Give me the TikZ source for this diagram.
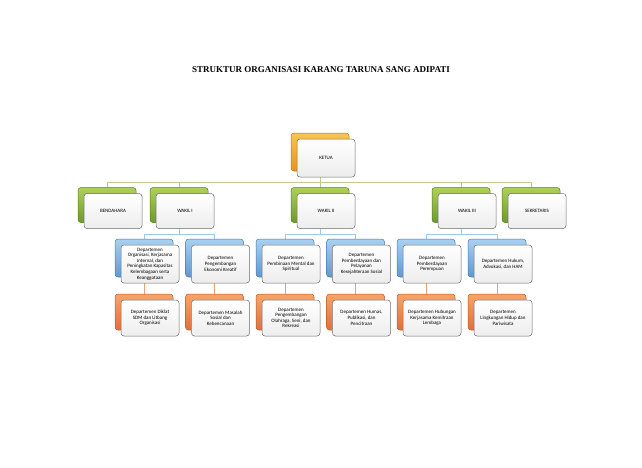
\documentclass[tikz,border=0pt]{standalone}
\usepackage{fontspec}
\setmainfont{Carlito}
\newfontfamily\titlefont{Liberation Serif}
\usetikzlibrary{shadows,backgrounds}
\definecolor{boxline}{HTML}{6E6A68}
\definecolor{boxgray}{HTML}{EDEDED}
\definecolor{ketuaT}{HTML}{F8C455}
\definecolor{ketuaB}{HTML}{E8921E}
\definecolor{grnT}{HTML}{AED05A}
\definecolor{grnB}{HTML}{6E9A2A}
\definecolor{bluT}{HTML}{A9D0F2}
\definecolor{bluB}{HTML}{5E98D2}
\definecolor{orgT}{HTML}{F8A468}
\definecolor{orgB}{HTML}{E0703A}
\definecolor{lineG}{HTML}{B9CE88}
\definecolor{lineB}{HTML}{9CCAEA}
\definecolor{lineO}{HTML}{E8A374}
\begin{document}
\begin{tikzpicture}[x=1pt,y=-1pt,
  box/.style={draw=boxline,line width=0.5pt,rounded corners=3pt,top color=white,bottom color=boxgray,
    minimum width=58pt,minimum height=36pt,inner sep=1pt,align=center,font=\fontsize{5}{5.6}\selectfont},
  shadK/.style={general shadow={shadow xshift=-6pt,shadow yshift=6pt,draw=ketuaB!80!black,top color=ketuaT,bottom color=ketuaB}},
  shadG/.style={general shadow={shadow xshift=-6pt,shadow yshift=6pt,draw=grnB!80!black,top color=grnT,bottom color=grnB}},
  shadB/.style={general shadow={shadow xshift=-6pt,shadow yshift=6pt,draw=bluB!80!black,top color=bluT,bottom color=bluB}},
  shadO/.style={general shadow={shadow xshift=-6pt,shadow yshift=6pt,draw=orgB!80!black,top color=orgT,bottom color=orgB}},
  lnG/.style={draw=lineG,line width=0.7pt},
  lnB/.style={draw=lineB,line width=0.7pt},
  lnO/.style={draw=lineO,line width=0.7pt}]
\useasboundingbox (0,0) rectangle (642,467);

\node[font=\titlefont\bfseries\fontsize{9}{11}\selectfont] (judul) at (321,70) {STRUKTUR ORGANISASI KARANG TARUNA SANG ADIPATI};

% ketua dan wakil
\node[box,shadK,minimum height=38pt] (ketua) at (326,158) {KETUA};
\node[box,shadG,minimum height=35pt] (bendahara) at (113,211) {BENDAHARA};
\node[box,shadG,minimum height=35pt] (wakil1) at (185,211) {WAKIL I};
\node[box,shadG,minimum height=35pt] (wakil2) at (326,211) {WAKIL II};
\node[box,shadG,minimum height=35pt] (wakil3) at (467,211) {WAKIL III};
\node[box,shadG,minimum height=35pt] (sekretaris) at (537,211) {SEKRETARIS};

% departemen
\node[box,shadB,minimum height=38pt] (dep1) at (150,264) {Departemen\\Organisasi, Kerjasama\\Internal, dan\\Peningkatan Kapasitas\\Kelembagaan serta\\Keanggotaan};
\node[box,shadB,minimum height=38pt] (dep2) at (220.5,264) {Departemen\\Pengembangan\\Ekonomi Kreatif};
\node[box,shadB,minimum height=38pt] (dep3) at (291,264) {Departemen\\Pembinaan Mental dan\\Spiritual};
\node[box,shadB,minimum height=38pt] (dep4) at (361.5,264) {Departemen\\Pemberdayaan dan\\Pelayanan\\Kesejahteraan Sosial};
\node[box,shadB,minimum height=38pt] (dep5) at (432,264) {Departemen\\Pemberdayaan\\Perempuan};
\node[box,shadB,minimum height=38pt] (dep6) at (503,264) {Departemen Hukum,\\Advokasi, dan HAM};

\node[box,shadO] (sub1) at (150,318) {Departemen Diklat\\SDM dan Litbang\\Organisasi};
\node[box,shadO] (sub2) at (220.5,318) {Departemen Masalah\\Sosial dan\\Kebencanaan};
\node[box,shadO] (sub3) at (291,318) {Departemen\\Pengembangan\\Olahraga, Seni, dan\\Rekreasi};
\node[box,shadO] (sub4) at (361.5,318) {Departemen Humas,\\Publikasi, dan\\Pencitraan};
\node[box,shadO] (sub5) at (432,318) {Departemen Hubungan\\Kerjasama Kemitraan\\Lembaga};
\node[box,shadO] (sub6) at (503,318) {Departemen\\Lingkungan Hidup dan\\Pariwisata};

\begin{scope}[on background layer]
\draw[lnG] ([xshift=-6pt]ketua.center) -- ++(0,24) coordinate (busK);
\foreach \n in {bendahara,wakil1,wakil2,wakil3,sekretaris}
  \draw[lnG] (busK) -| ([xshift=-6pt]\n.center);
\foreach \w/\a/\b in {wakil1/dep1/dep2,wakil2/dep3/dep4,wakil3/dep5/dep6}{
  \draw[lnB] ([xshift=-6pt]\w.center) -- ++(0,23) coordinate (busW);
  \draw[lnB] (busW) -| ([xshift=-6pt]\a.center);
  \draw[lnB] (busW) -| ([xshift=-6pt]\b.center);
}
\foreach \i in {1,...,6}
  \draw[lnO] ([xshift=-6pt]dep\i.center) -- ([xshift=-6pt]sub\i.center);
\end{scope}
\end{tikzpicture}
\end{document}
